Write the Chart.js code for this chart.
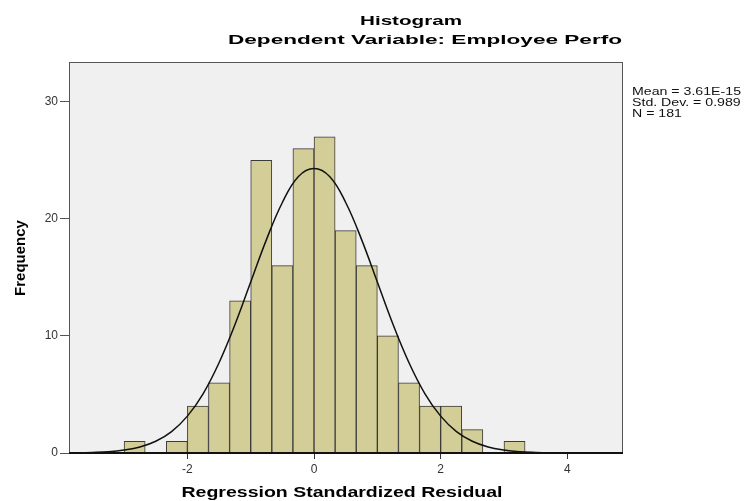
<!DOCTYPE html>
<html lang="en">
<head>
    <meta charset="UTF-8">
    <title>Histogram - Regression Standardized Residual</title>
    <style>
        body {
            margin: 0;
            background: #fff;
        }
        .chart-box {
            width: 744px;
            height: 501px;
            position: relative;
        }
    </style>
    <script src="https://cdn.jsdelivr.net/npm/chart.js@4/dist/chart.umd.min.js"></script>
</head>
<body>
    <div class="chart-box">
        <canvas id="hist"></canvas>
    </div>

    <script>
        // Histogram bins (width 1/3, first bin starts at -3)
        const binStart = -3;
        const binWidth = 1 / 3;
        const counts = [1, 0, 1, 4, 6, 13, 25, 16, 26, 27, 19, 16, 10, 6, 4, 4, 2, 0, 1];

        // Normal curve
        const curveX = [-4, -3.75, -3.5, -3.25, -3, -2.75, -2.5, -2.25, -2, -1.75, -1.5, -1.25, -1, -0.75, -0.5, -0.25,
            0, 0.25, 0.5, 0.75, 1, 1.25, 1.5, 1.75, 2, 2.25, 2.5, 2.75, 3, 3.25, 3.5, 3.75, 4, 4.25, 4.5, 4.75, 5];
        const curveY = [0.01, 0.02, 0.05, 0.11, 0.25, 0.51, 1.0, 1.83, 3.15, 5.08, 7.71, 10.95, 14.6, 18.25, 21.4, 23.6,
            24.3, 23.6, 21.4, 18.25, 14.6, 10.95, 7.71, 5.08, 3.15, 1.83, 1.0, 0.51, 0.25, 0.11, 0.05, 0.02, 0.01, 0, 0, 0, 0];

        const xTicks = [-2, 0, 2, 4];
        const yTicks = [0, 10, 20, 30];
        const xRange = [-3.87, 4.88];
        const yRange = [0, 33.4];

        const titleText = 'Histogram';
        const subtitleText = 'Dependent Variable: Employee Perfo';
        const xTitle = 'Regression Standardized Residual';
        const yTitle = 'Frequency';
        const statsLines = ['Mean = 3.61E-15', 'Std. Dev. = 0.989', 'N = 181'];

        const FONT = '"Liberation Sans", Arial, sans-serif';

        // draw text squeezed/stretched to a given width (the source image is wide)
        function wideText(ctx, text, x, y, font, width, align) {
            ctx.save();
            ctx.font = font;
            const w = ctx.measureText(text).width;
            ctx.translate(x, y);
            ctx.scale(width / w, 1);
            ctx.textAlign = align || 'center';
            ctx.textBaseline = 'alphabetic';
            ctx.fillText(text, 0, 0);
            ctx.restore();
        }

        const decor = {
            id: 'decor',
            beforeDraw(chart) {
                const { ctx, chartArea: a } = chart;
                ctx.save();
                ctx.fillStyle = '#fff';
                ctx.fillRect(0, 0, chart.width, chart.height);
                ctx.fillStyle = '#f0f0f0';
                ctx.fillRect(a.left, a.top, a.right - a.left, a.bottom - a.top);
                ctx.restore();
            },
            afterDraw(chart) {
                const { ctx, chartArea: a } = chart;
                ctx.save();
                // frame
                ctx.strokeStyle = '#555';
                ctx.lineWidth = 1;
                ctx.strokeRect(a.left + 0.5, a.top + 0.5, a.right - a.left - 1, a.bottom - a.top);
                ctx.strokeStyle = '#111';
                ctx.lineWidth = 2;
                ctx.beginPath();
                ctx.moveTo(a.left, a.bottom);
                ctx.lineTo(a.right, a.bottom);
                ctx.stroke();

                ctx.fillStyle = '#000';
                wideText(ctx, titleText, 411, 25, 'bold 13px ' + FONT, 102);
                wideText(ctx, subtitleText, 425, 44, 'bold 13px ' + FONT, 394);
                wideText(ctx, xTitle, 342, 497, 'bold 15px ' + FONT, 321);

                // y title, rotated
                ctx.save();
                ctx.translate(25, 258);
                ctx.rotate(-Math.PI / 2);
                ctx.font = 'bold 15px ' + FONT;
                ctx.textAlign = 'center';
                ctx.fillText(yTitle, 0, 0);
                ctx.restore();

                // stats box
                ctx.fillStyle = '#111';
                ctx.font = '11px ' + FONT;
                const k = 109 / ctx.measureText(statsLines[0]).width;
                statsLines.forEach((line, i) => {
                    const w = ctx.measureText(line).width;
                    wideText(ctx, line, a.right + 9, 95 + i * 11, '11px ' + FONT, w * k, 'left');
                });
                ctx.restore();
            }
        };

        const bars = counts.map((c, i) => ({ x: binStart + (i + 0.5) * binWidth, y: c }));
        const curve = curveX.map((x, i) => ({ x: x, y: curveY[i] }));

        new Chart(document.getElementById('hist'), {
            type: 'bar',
            data: {
                datasets: [
                    {
                        type: 'line',
                        data: curve,
                        borderColor: '#111',
                        borderWidth: 1.5,
                        pointRadius: 0,
                        tension: 0.4,
                        fill: false,
                        order: 0
                    },
                    {
                        type: 'bar',
                        data: bars,
                        backgroundColor: '#d3ce98',
                        borderColor: '#3a3a3a',
                        borderWidth: 1,
                        barPercentage: 1,
                        categoryPercentage: 1,
                        order: 1
                    }
                ]
            },
            options: {
                responsive: true,
                maintainAspectRatio: false,
                animation: false,
                layout: { padding: { top: 62, right: 121, left: 0, bottom: 0 } },
                plugins: {
                    legend: { display: false },
                    title: { display: false },
                    tooltip: { enabled: false }
                },
                scales: {
                    x: {
                        type: 'linear',
                        offset: false,
                        min: xRange[0],
                        max: xRange[1],
                        afterBuildTicks: s => { s.ticks = xTicks.map(v => ({ value: v })); },
                        afterFit: s => { s.height = 48; },
                        grid: { offset: false, drawOnChartArea: false, tickLength: 6, color: '#333', tickWidth: 1 },
                        border: { display: false },
                        ticks: { padding: 3, color: '#333', font: { family: FONT, size: 12 } }
                    },
                    y: {
                        min: yRange[0],
                        max: yRange[1],
                        afterBuildTicks: s => { s.ticks = yTicks.map(v => ({ value: v })); },
                        afterFit: s => { s.width = 69; },
                        grid: { drawOnChartArea: false, tickLength: 9, color: '#555', tickWidth: 1 },
                        border: { display: false },
                        ticks: { padding: 2, color: '#333', font: { family: FONT, size: 12 } }
                    }
                }
            },
            plugins: [decor]
        });
    </script>
</body>
</html>
